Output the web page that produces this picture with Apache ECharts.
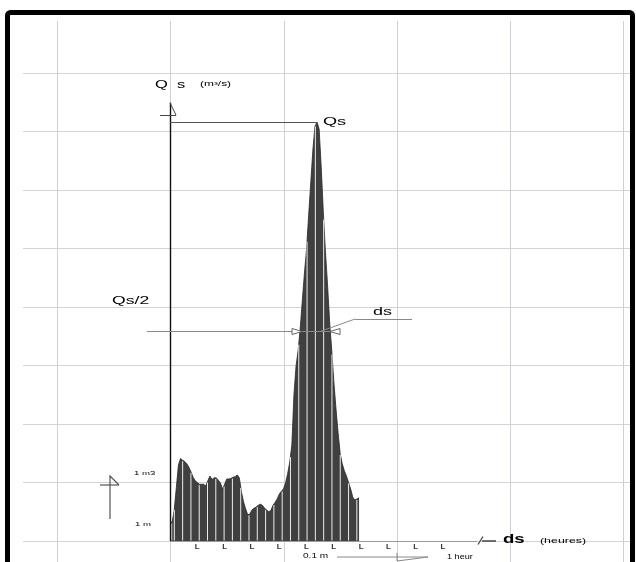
<!DOCTYPE html>
<html><head><meta charset="utf-8">
<script src="https://cdn.jsdelivr.net/npm/echarts@6/dist/echarts.min.js"></script>
<style>html,body{margin:0;padding:0;background:#fff}#c{width:636px;height:562px}</style>
</head><body><div id="c"></div>
<script>
// Discharge Qs (in grid-row units) sampled at regular time steps along the hydrograph
const qsValues = [
  0.32,0.32,0.53,0.91,1.30,1.41,1.38,1.36,1.32,1.26,
  1.18,1.09,1.03,1.00,0.97,0.97,0.97,0.94,1.03,1.11,
  1.05,1.08,1.08,1.04,0.99,0.89,0.97,1.06,1.06,1.07,
  1.09,1.10,1.13,1.08,0.84,0.67,0.55,0.45,0.46,0.53,
  0.56,0.58,0.61,0.63,0.61,0.56,0.53,0.50,0.52,0.61,
  0.66,0.72,0.80,0.85,0.89,0.99,1.15,1.35,1.64,2.50,
  2.99,3.26,3.64,4.12,4.58,4.99,5.57,6.12,6.68,7.09,
  7.16,7.04,6.38,5.61,4.94,4.38,3.74,3.26,2.72,2.27,
  1.86,1.50,1.32,1.20,1.11,1.00,0.89,0.75,0.70,0.72,
  0.74
];
const timeTickLabels = ['', 'L','L','L','L','L','L','L','L','L','L'];
const gridRows = 9;
const gridCols = 5;

const peakValue = Math.max(...qsValues);
const peakIndex = qsValues.indexOf(peakValue);
const halfValue = peakValue / 2;

// light separators across the filled hydrograph (decoration), heights
const stripeXs = [0.8];
for (let k = 0; k < 23; k++) stripeXs.push(2.05 + k * 3.95);
function curveAt(x) {
  const i = Math.floor(x), f = x - i;
  const a = qsValues[Math.min(i, qsValues.length - 1)];
  const b = qsValues[Math.min(i + 1, qsValues.length - 1)];
  return a + (b - a) * f;
}
const stripeData = stripeXs.filter(x => x <= qsValues.length - 1).map(x => [x, curveAt(x)]);

const FONT = '"Liberation Sans", Arial, sans-serif';
function txt(t, x, y, size, sx, opt) {
  opt = opt || {};
  return {
    type: 'text', x: x, y: y, scaleX: sx, silent: true, z: 50,
    style: {
      text: t, fill: opt.fill || '#000',
      font: (opt.bold ? 'bold ' : '') + size + 'px ' + FONT,
      textAlign: 'left', textVerticalAlign: 'middle'
    }
  };
}
function seg(points, color, w) {
  return { type: 'polyline', silent: true, z: 50,
    shape: { points: points }, style: { stroke: color, lineWidth: w, fill: null } };
}

const chart = echarts.init(document.getElementById('c'), null, { renderer: 'canvas' });
chart.setOption({
  animation: false,
  backgroundColor: '#fff',
  textStyle: { fontFamily: FONT },
  grid: [
    { left: 23, right: 6, top: 14.5, bottom: 21 },      // data + horizontal grid
    { left: 57.5, right: 12.5, top: 21, bottom: 0 },     // vertical grid
    { left: 170, right: 193, top: 14.5, bottom: 21 }     // time ticks
  ],
  xAxis: [
    { gridIndex: 0, type: 'value', min: -70, max: 219, show: false },
    { gridIndex: 1, type: 'value', min: 0, max: gridCols, interval: 1,
      axisLine: { show: false }, axisTick: { show: false }, axisLabel: { show: false },
      splitLine: { show: true, lineStyle: { color: '#cfcfd6', width: 1 } } },
    { gridIndex: 2, type: 'value', min: 0, max: 10, interval: 1,
      axisLine: { show: false }, axisTick: { show: false }, splitLine: { show: false },
      axisLabel: { show: true, margin: 2, fontSize: 8, fontWeight: 'bold', color: '#333',
        formatter: v => timeTickLabels[Math.round(v)] || '' } }
  ],
  yAxis: [
    { gridIndex: 0, type: 'value', min: 0, max: gridRows, interval: 1,
      axisLine: { show: false }, axisTick: { show: false }, axisLabel: { show: false },
      splitLine: { show: true, lineStyle: { color: '#d3d3d8', width: 1 } } },
    { gridIndex: 1, type: 'value', min: 0, max: 1, show: false },
    { gridIndex: 2, type: 'value', min: 0, max: 1, show: false }
  ],
  series: [
    {
      type: 'line', xAxisIndex: 0, yAxisIndex: 0, z: 2,
      data: qsValues.map((v, i) => [i, v]),
      showSymbol: false, symbol: 'none',
      lineStyle: { color: '#262626', width: 0.8 },
      areaStyle: { color: '#404040', opacity: 1 },
      markLine: {
        silent: true, symbol: ['none', 'none'], label: { show: false },
        data: [
          [{ coord: [0, 0], lineStyle: { color: '#9a9a9a', width: 1, type: 'solid' } }, { coord: [146.2, 0] }],
          [{ coord: [0, 0], lineStyle: { color: '#111', width: 1.4, type: 'solid' } }, { coord: [0, 7.49] }],
          [{ coord: [0, 7.49], lineStyle: { color: '#444', width: 1, type: 'solid' } }, { coord: [2.86, 7.28] }],
          [{ coord: [-4.76, 7.28], lineStyle: { color: '#444', width: 1, type: 'solid' } }, { coord: [2.86, 7.28] }],
          [{ coord: [0, peakValue], lineStyle: { color: '#555', width: 1, type: 'solid' } }, { coord: [peakIndex, peakValue] }],
          [{ coord: [-10.95, halfValue], lineStyle: { color: '#8a8a8a', width: 1, type: 'solid' } }, { coord: [80.95, halfValue] }],
          [{ coord: [71.4, halfValue], lineStyle: { color: '#8a8a8a', width: 1, type: 'solid' } }, { coord: [88.1, 3.795] }],
          [{ coord: [88.1, 3.795], lineStyle: { color: '#8a8a8a', width: 1, type: 'solid' } }, { coord: [115.2, 3.795] }]
        ]
      }
    },
    {
      type: 'custom', xAxisIndex: 0, yAxisIndex: 0, z: 3, silent: true,
      data: stripeData,
      renderItem: function (params, api) {
        const x = api.value(0), h = api.value(1);
        const p0 = api.coord([x, 0]), p1 = api.coord([x, h]);
        return { type: 'line', shape: { x1: p0[0], y1: p0[1] - 0.5, x2: p1[0], y2: p1[1] + 1 },
          style: { stroke: '#ececec', lineWidth: 1 } };
      }
    }
  ],
  graphic: [
    // dimension arrows at half peak
    { type: 'polygon', silent: true, z: 50, shape: { points: [[292, 328.5], [302, 331.5], [292, 334.5]] },
      style: { fill: '#fff', stroke: '#666', lineWidth: 1 } },
    { type: 'polygon', silent: true, z: 50, shape: { points: [[340, 328.5], [330, 331.5], [340, 334.5]] },
      style: { fill: '#fff', stroke: '#666', lineWidth: 1 } },
    // scale arrow near "1 m3"
    seg([[110, 519], [110, 476], [119, 485]], '#555', 1.2),
    seg([[100, 485], [119, 485]], '#555', 1.2),
    // axis end near "ds"
    seg([[478, 544.5], [483, 536.5]], '#444', 1.3),
    seg([[482, 541], [496, 541]], '#444', 1.5),
    // bottom scale line
    seg([[337, 557], [428, 557]], '#888', 1),
    seg([[397, 553], [397, 561], [428, 557]], '#888', 1),
    // texts
    txt('Q  s', 155, 85, 11, 1.5),
    txt('(m³/s)', 200, 84, 7, 1.7),
    txt('Qs', 323, 121.5, 11, 1.65),
    txt('Qs/2', 112, 301, 11, 1.6),
    txt('ds', 373, 312.5, 10, 1.8),
    txt('1 m3', 134, 473.5, 6, 1.6),
    txt('1 m', 135, 524, 6, 1.6),
    txt('0.1 m', 303, 556, 6.5, 1.55),
    txt('1 heur', 447, 557, 6.5, 1.4),
    txt('ds', 503, 540, 12, 1.55, { bold: true }),
    txt('(heures)', 540, 541, 7.5, 1.65),
    // frame
    { type: 'rect', silent: true, z: 100, shape: { x: 7.5, y: 12.5, width: 625, height: 640, r: 3 },
      style: { fill: null, stroke: '#000', lineWidth: 5 } }
  ]
});
</script>
</body></html>
